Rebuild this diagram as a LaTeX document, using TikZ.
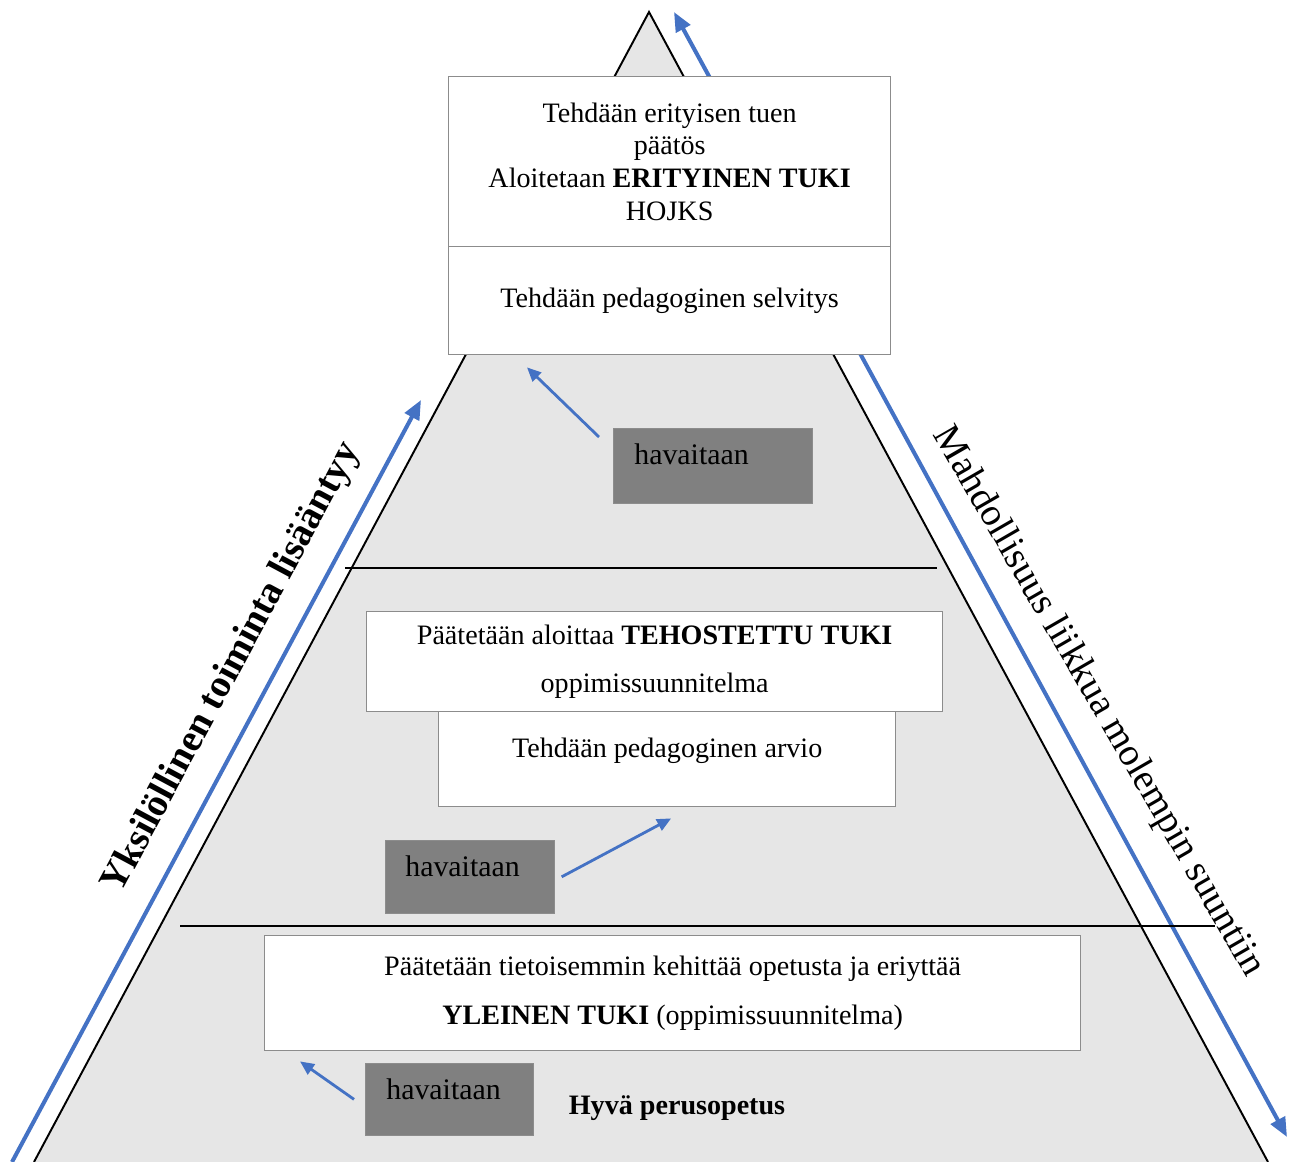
\documentclass[tikz,border=0pt]{standalone}
\usepackage{fontspec}
\setmainfont{Liberation Serif}
\usetikzlibrary{arrows.meta}

\definecolor{pyrgray}{HTML}{E6E6E6}
\definecolor{havgray}{HTML}{808080}
\definecolor{boxline}{HTML}{8C8C8C}
\definecolor{arrowblue}{HTML}{4472C4}

\begin{document}
\begin{tikzpicture}[
    x=0.02cm, y=-0.02cm,
    font=\fontsize{16}{18.7}\selectfont,
    edge/.style={line width=1.1pt, black},
    bigarrow/.style={line width=2.3pt, arrowblue, {Triangle[length=11pt, width=9pt]}-{Triangle[length=11pt, width=9pt]}},
    uparrow/.style={line width=2.3pt, arrowblue, -{Triangle[length=11pt, width=9pt]}},
    smallarrow/.style={line width=1.6pt, arrowblue, -{Triangle[length=8pt, width=7pt]}},
    box/.style={rectangle, draw=boxline, line width=0.8pt, fill=white, align=center, anchor=north west},
    hav/.style={rectangle, draw=boxline, line width=0.4pt, fill=havgray, align=left, anchor=north west,
        inner ysep=0pt, text height=0.72cm, font=\fontsize{17}{20}\selectfont},
    sidelabel/.style={font=\fontsize{22}{26}\selectfont}
]
\useasboundingbox (0,0) rectangle (1295,1162);

% pyramid
\fill[pyrgray] (649,12) -- (34,1162) -- (1268,1162) -- cycle;
\draw[edge] (34,1162) -- (649,12) -- (1268,1162);

% blue side arrows
\coordinate (leftFoot) at (12,1162);
\coordinate (leftTip) at (421,400);
\coordinate (rightTop) at (674,12);
\coordinate (rightFoot) at (1287,1137);
\draw[uparrow] (leftFoot) -- (leftTip);
\draw[bigarrow] (rightTop) -- (rightFoot);

% level borders
\draw[edge] (345,568) -- (937,568);
\draw[edge] (180,926) -- (1215,926);

% top level
\node[box, minimum width=8.84cm, minimum height=3.4cm] (paatos) at (448,76)
    {Tehdään erityisen tuen\\päätös\\Aloitetaan \textbf{ERITYINEN TUKI}\\HOJKS};
\node[box, minimum width=8.84cm, minimum height=2.16cm] (selvitys) at (448,246)
    {Tehdään pedagoginen selvitys};
\node[hav, minimum width=3.98cm, inner xsep=0.42cm, text width=3.14cm, text depth=0.78cm] (hav1) at (613,428) {havaitaan};

% middle level
\node[box, minimum width=9.14cm, inner ysep=0pt, text height=0.92cm, text depth=0.98cm] (arvio) at (438,711)
    {Tehdään pedagoginen arvio};
\node[box, minimum width=11.52cm, minimum height=2cm, font=\fontsize{16}{27.8}\selectfont] (tehostettu) at (366,611)
    {Päätetään aloittaa \textbf{TEHOSTETTU TUKI}\\oppimissuunnitelma};
\node[hav, minimum width=3.38cm, inner xsep=0.4cm, text width=2.58cm, text depth=0.74cm] (hav2) at (385,840) {havaitaan};

% bottom level
\node[box, minimum width=16.32cm, minimum height=2.3cm, font=\fontsize{16}{27.8}\selectfont] (yleinen) at (264,935)
    {Päätetään tietoisemmin kehittää opetusta ja eriyttää\\\textbf{YLEINEN TUKI} (oppimissuunnitelma)};
\node[hav, minimum width=3.36cm, inner xsep=0.42cm, text width=2.52cm, text depth=0.72cm] (hav3) at (365,1063) {havaitaan};
\node[font=\fontsize{16}{18.7}\selectfont\bfseries] (perus) at (677,1108) {Hyvä perusopetus};

% havaitaan arrows
\draw[smallarrow] ([shift={(-14,9)}]hav1.north west) -- ([shift={(79,12)}]selvitys.south west);
\draw[smallarrow] ([shift={(7,0)}]hav2.east) -- ([shift={(4,11)}]arvio.south);
\draw[smallarrow] ([shift={(-11,0)}]hav3.west) -- ([shift={(36,10)}]yleinen.south west);

% side labels
\node[sidelabel, font=\fontsize{22}{26}\selectfont\bfseries, rotate=61.8] (yksilo) at (232,668)
    {Yksilöllinen toiminta lisääntyy};
\node[sidelabel, rotate=-60] (suunta) at (1098,702)
    {Mahdollisuus liikkua molempin suuntiin};

\end{tikzpicture}
\end{document}
